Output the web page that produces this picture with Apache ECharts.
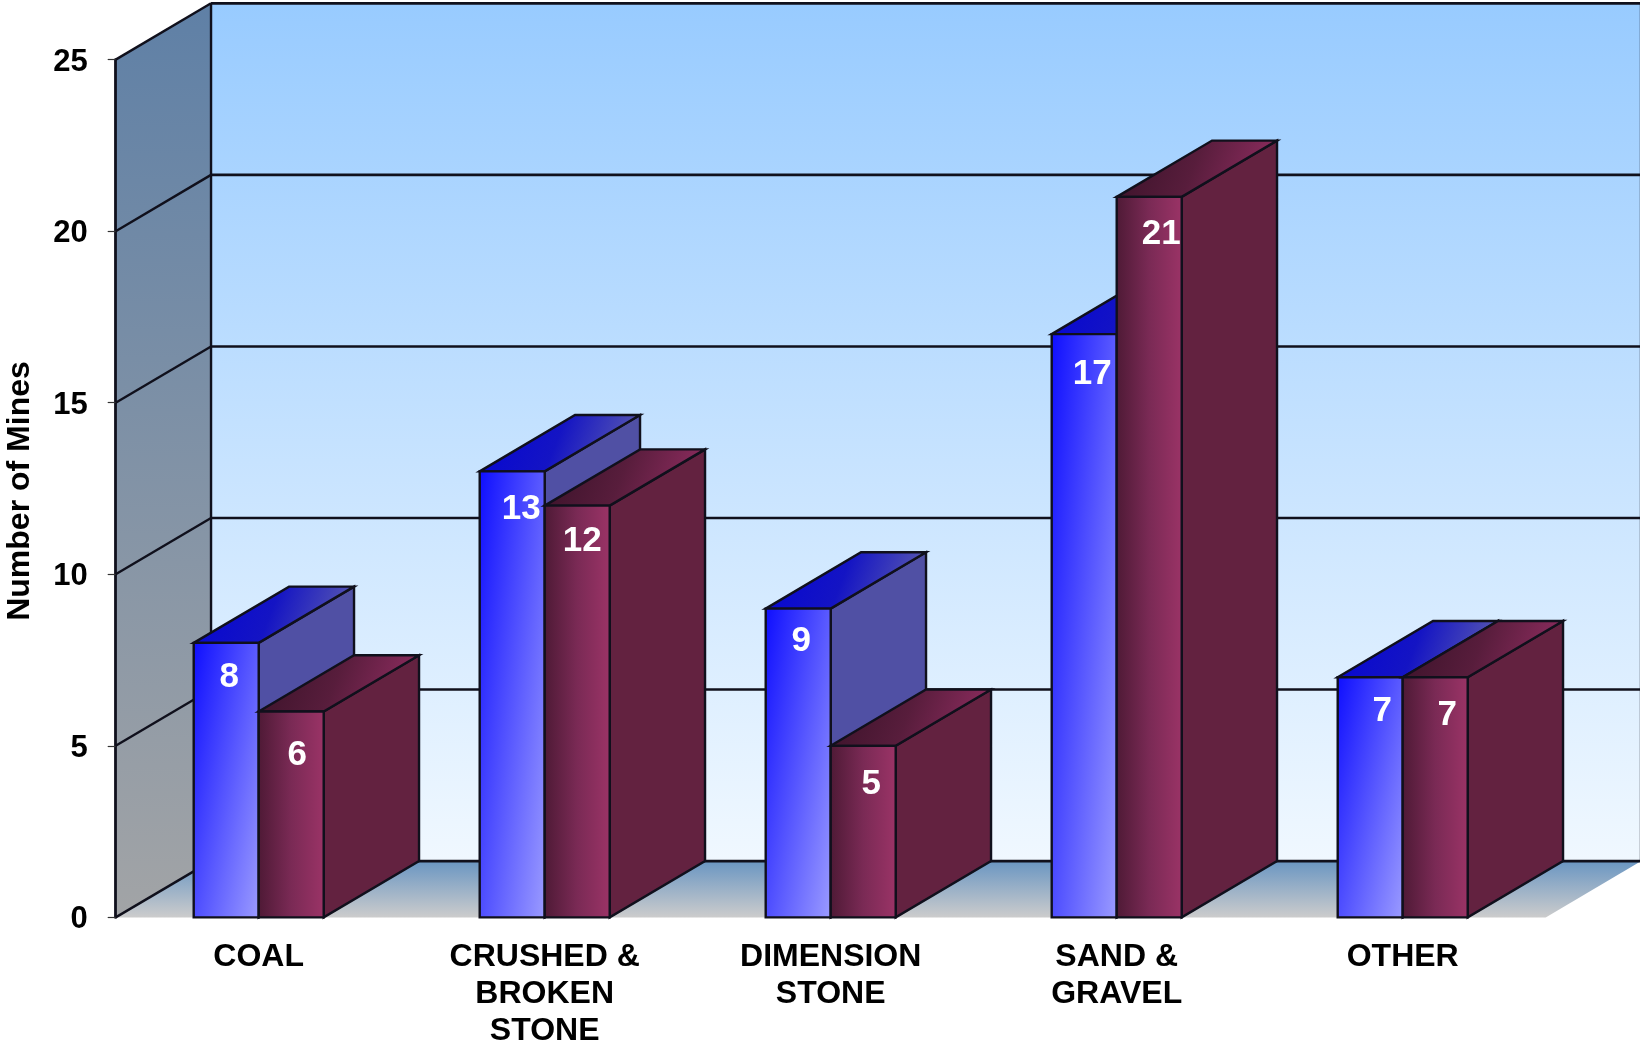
<!DOCTYPE html>
<html>
<head>
<meta charset="utf-8">
<style>html,body{margin:0;padding:0;background:#fff}#c{width:1640px;height:1047px}</style>
<script src="https://cdn.jsdelivr.net/npm/echarts@6/dist/echarts.min.js"></script>
</head>
<body>
<div id="c"></div>
<script>
const categories = ['COAL', 'CRUSHED &\nBROKEN\nSTONE', 'DIMENSION\nSTONE', 'SAND &\nGRAVEL', 'OTHER'];
const blueValues = [8, 13, 9, 17, 7];
const maroonValues = [6, 12, 5, 21, 7];
const yTicks = [0, 5, 10, 15, 20, 25];
const yAxisTitle = 'Number of Mines';

// Hand placement of the value labels relative to the bar's top centre: [dx, dy] in pixels.
const blueLabelShift = [[3, 34], [9, 38], [3, 33], [8, 40], [12, 34]];
const maroonLabelShift = [[6, 44], [5, 36], [8, 39], [12, 37], [12, 38]];

const FONT = '"Liberation Sans", Arial, sans-serif';
const EDGE = '#10101c';
const BAR_W = 65 / 286;      // of a category band
const DEPTH_X = 1 / 3;       // of a category band
const DEPTH_Y = 1.64;        // in axis units

const grad = (x, y, x2, y2, stops) => ({
  type: 'linear', x, y, x2, y2,
  colorStops: stops.map((c, i) => ({ offset: i / (stops.length - 1), color: c }))
});
// Gradient in page pixels over a rectangle: t = kx*xFraction + ky*yFraction.
function rectGrad(x, y, w, h, kx, ky, stops) {
  const a = kx / w, b = ky / h, n = a * a + b * b;
  const g = grad(x, y, x + a / n, y + b / n, stops);
  g.global = true;
  return g;
}
const poly = (points, fill, stroke, lineWidth) => ({
  type: 'polygon', shape: { points },
  style: { fill, stroke: stroke || 'none', lineWidth: lineWidth === undefined ? 2.4 : lineWidth }
});
const line = (a, b, w) => ({
  type: 'line', shape: { x1: a[0], y1: a[1], x2: b[0], y2: b[1] },
  style: { stroke: EDGE, lineWidth: w || 2.4 }
});

function depth(api) {
  const band = api.size([1, 0])[0];
  return { band, dx: band * DEPTH_X, dy: api.size([0, DEPTH_Y])[1] };
}

// Walls and floor of the box, spanned from the grid's own rectangle.
function renderBox(params, api) {
  const g = params.coordSys, { dx, dy } = depth(api);
  const L = g.x, R = g.x + g.width, T = g.y, B = g.y + g.height;
  return {
    type: 'group',
    children: [
      poly([[L + dx, T - dy], [R + dx, T - dy], [R + dx, B - dy], [L + dx, B - dy]],
        grad(0, 0, 0, 1, ['#98cbff', '#f0f8ff'])),
      poly([[L, T], [L + dx, T - dy], [L + dx, B - dy], [L, B]],
        grad(0, 0, 0, 1, ['#5f80a6', '#a2a4a6'])),
      poly([[L, B], [L + dx, B - dy], [R + dx, B - dy], [R, B]],
        grad(0, 0, 0, 1, ['#6a96c2', '#cccccc'])),
      line([L + dx, T - dy], [L + dx, B - dy]),
      line([R + dx, T - dy], [R + dx, B - dy])
    ]
  };
}

// One tick: a rule across the left wall and along the back wall.
function renderRule(params, api) {
  const g = params.coordSys, { dx, dy } = depth(api);
  const y = api.coord([0, api.value(0)])[1];
  return {
    type: 'group',
    children: [
      line([g.x, y], [g.x + dx, y - dy]),
      line([g.x + dx, y - dy], [g.x + g.width + dx, y - dy], 2.6)
    ]
  };
}

function barRenderer(kind) {
  const isBlue = kind === 'blue';
  const shifts = isBlue ? blueLabelShift : maroonLabelShift;
  const topFill = isBlue
    ? grad(0.1, 0.1, 0.85, 0.9, ['#0808d0', '#1414c4', '#5050b4'])
    : grad(0.1, 0.1, 0.85, 0.9, ['#3f142c', '#581d3c', '#862a5a']);
  const sideFill = isBlue ? '#5050a4' : '#632240';
  return function (params, api) {
    const i = params.dataIndex;
    const { band, dx, dy } = depth(api);
    const w = band * BAR_W;
    const value = api.value(1);
    const top = api.coord([api.value(0), value]);
    const base = api.coord([api.value(0), 0]);
    const x0 = isBlue ? top[0] - w : top[0];
    const x1 = x0 + w;
    const y0 = top[1], y1 = base[1];
    const s = shifts[i];
    const frontFill = isBlue
      ? rectGrad(x0, y0, w, y1 - y0, 0.55, 0.45, ['#0f0fff', '#9a9aff'])
      : rectGrad(x0, y0, w, y1 - y0, 1, 0, ['#4f1a36', '#7a2a55', '#9a3366']);
    return {
      type: 'group',
      children: [
        poly([[x1, y0], [x1 + dx, y0 - dy], [x1 + dx, y1 - dy], [x1, y1]], sideFill, EDGE),
        poly([[x0, y0], [x0 + dx, y0 - dy], [x1 + dx, y0 - dy], [x1, y0]], topFill, EDGE),
        poly([[x0, y0], [x1, y0], [x1, y1], [x0, y1]], frontFill, EDGE),
        {
          type: 'text',
          style: {
            text: String(value), x: (x0 + x1) / 2 + s[0], y: y0 + s[1],
            fill: '#ffffff', font: 'bold 35px ' + FONT,
            align: 'center', verticalAlign: 'middle'
          }
        }
      ]
    };
  };
}

const chart = echarts.init(document.getElementById('c'), null, { width: 1640, height: 1047 });
chart.setOption({
  animation: false,
  backgroundColor: '#ffffff',
  grid: { left: 115.7, right: 94.3, top: 59.6, bottom: 129.6, containLabel: false, outerBoundsMode: 'none' },
  xAxis: {
    type: 'category', data: categories,
    axisLine: { show: false }, axisTick: { show: false }, splitLine: { show: false },
    axisLabel: {
      interval: 0, margin: 21.5, color: '#000', fontFamily: FONT, fontWeight: 'bold',
      fontSize: 32, lineHeight: 37, hideOverlap: false
    }
  },
  yAxis: {
    type: 'value', min: yTicks[0], max: yTicks[yTicks.length - 1], interval: yTicks[1] - yTicks[0],
    z: 20,
    name: yAxisTitle, nameLocation: 'middle', nameGap: 80, nameRotate: 90,
    nameTextStyle: { color: '#000', fontFamily: FONT, fontWeight: 'bold', fontSize: 32, padding: [0, 5, 0, 0] },
    axisLine: { show: true, lineStyle: { color: '#10101c', width: 2.8 } },
    axisTick: { show: true, length: 8, lineStyle: { color: '#333', width: 1.2 } },
    splitLine: { show: false },
    axisLabel: {
      margin: 28, formatter: '{v|{value}}',
      rich: { v: { color: '#000', fontFamily: FONT, fontWeight: 'bold', fontSize: 31, padding: [5, 0, 0, 0] } }
    }
  },
  series: [
    { type: 'custom', name: 'box', coordinateSystem: 'cartesian2d', silent: true, clip: false, z: 1,
      data: [[0]], encode: { y: 0 }, renderItem: renderBox },
    { type: 'custom', name: 'rules', coordinateSystem: 'cartesian2d', silent: true, clip: false, z: 2,
      data: yTicks.map(v => [v]), encode: { y: 0 }, renderItem: renderRule },
    { type: 'custom', name: 'blue', coordinateSystem: 'cartesian2d', silent: true, clip: false, z: 3,
      data: blueValues.map((v, i) => [i, v]), encode: { x: 0, y: 1 }, renderItem: barRenderer('blue') },
    { type: 'custom', name: 'maroon', coordinateSystem: 'cartesian2d', silent: true, clip: false, z: 4,
      data: maroonValues.map((v, i) => [i, v]), encode: { x: 0, y: 1 }, renderItem: barRenderer('maroon') }
  ]
});
</script>
</body>
</html>
